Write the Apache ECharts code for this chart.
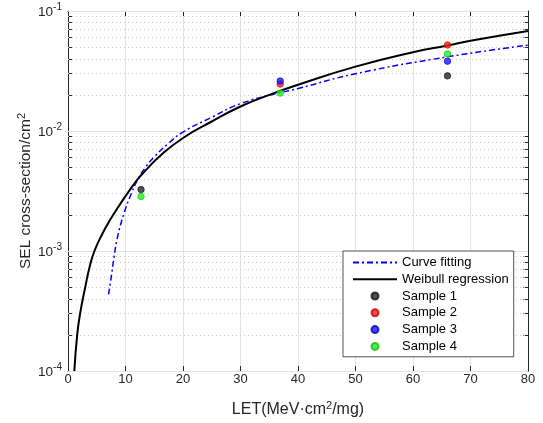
<!DOCTYPE html>
<html>
<head>
<meta charset="utf-8">
<script src="https://cdn.jsdelivr.net/npm/echarts/dist/echarts.min.js"></script>
<style>
html,body{margin:0;padding:0;background:#fff;}
#chart{width:543px;height:423px;}
</style>
</head>
<body>
<div id="chart"></div>
<script>
// ---------- data ----------
const xTicks = [0, 10, 20, 30, 40, 50, 60, 70, 80];
const yMajor = [1e-4, 1e-3, 1e-2, 1e-1];
const yMinor = [2e-4,3e-4,4e-4,5e-4,6e-4,7e-4,8e-4,9e-4,
                2e-3,3e-3,4e-3,5e-3,6e-3,7e-3,8e-3,9e-3,
                2e-2,3e-2,4e-2,5e-2,6e-2,7e-2,8e-2,9e-2];

const weibullLET = [1.1, 1.6, 2.1, 3.0, 3.8, 4.6, 6.0, 7.3, 8.8, 10.3, 11.9, 13.5, 16, 20, 25, 30, 35, 40, 50, 60, 66, 70, 80];
const weibullSEL = [1.0e-4, 2.0e-4, 3.0e-4, 5.0e-4, 7.5e-4, 1.0e-3, 1.4e-3, 1.81e-3, 2.35e-3, 3.0e-3, 3.85e-3, 4.7e-3, 6.2e-3, 8.75e-3, 1.2e-2, 1.6e-2, 2.0e-2, 2.43e-2, 3.44e-2, 4.54e-2, 5.15e-2, 5.65e-2, 6.82e-2];

const fitLET = [7.05, 7.5, 8.0, 8.6, 9.8, 11.0, 12.2, 13.5, 15, 17.5, 20, 25, 30, 36.6, 40, 50, 66, 80];
const fitSEL = [4.35e-4, 6.0e-4, 8.8e-4, 1.3e-3, 2.1e-3, 3.0e-3, 4.0e-3, 5.0e-3, 6.1e-3, 7.9e-3, 9.8e-3, 1.3e-2, 1.69e-2, 2.07e-2, 2.26e-2, 3.0e-2, 4.15e-2, 5.19e-2];

const sampleLET = [12.7, 36.9, 66];
const sample1 = [3.25e-3, null, 2.88e-2];
const sample2 = [null, 2.46e-2, 5.21e-2];
const sample3 = [null, 2.61e-2, 3.82e-2];
const sample4 = [2.85e-3, 2.07e-2, 4.39e-2];

const seriesNames = ['Curve fitting', 'Weibull regression', 'Sample 1', 'Sample 2', 'Sample 3', 'Sample 4'];

// ---------- chart ----------
const FONT = 'Liberation Sans, Arial, Helvetica, sans-serif';
const AX = '#262626';
const pair = (xs, ys) => xs.map((x, i) => [x, ys[i]]).filter(p => p[1] != null);
const supRich = (size, supSize, raise) => ({
  b: {fontSize: size, fontFamily: FONT, color: AX, verticalAlign: 'bottom'},
  s: {fontSize: supSize, fontFamily: FONT, color: AX, verticalAlign: 'bottom', padding: [0, 0, raise, 0]}
});

const chart = echarts.init(document.getElementById('chart'), null, {renderer: 'canvas'});

const scatterSeries = (name, ys, color, edge) => ({
  name, type: 'scatter', data: pair(sampleLET, ys), symbol: 'circle', symbolSize: 6.5, z: 4,
  itemStyle: {color, borderColor: edge, borderWidth: 0.8}
});

const hiddenIcon = {color: 'rgba(0,0,0,0)', borderColor: 'rgba(0,0,0,0)', borderWidth: 0, opacity: 0};

const option = {
  animation: false,
  backgroundColor: '#fff',
  grid: {left: 68, right: 15, top: 11, bottom: 52, containLabel: false},
  xAxis: [{
    type: 'value', min: 0, max: 80, interval: 10, position: 'bottom',
    name: '{b|LET(MeV·cm}{s|2}{b|/mg)}', nameLocation: 'middle', nameGap: 29,
    nameMoveOverlap: false,
    nameTextStyle: {rich: supRich(16, 11, 7)},
    axisLine: {show: true, onZero: false, lineStyle: {color: AX, width: 1}},
    axisTick: {show: true, inside: true, length: 5, lineStyle: {color: AX}},
    axisLabel: {fontSize: 13, fontFamily: FONT, color: AX, margin: 2},
    splitLine: {show: true, lineStyle: {color: '#e3e3e3', width: 1}}
  }, {
    type: 'value', min: 0, max: 80, interval: 10, position: 'top',
    axisLine: {show: true, onZero: false, lineStyle: {color: AX, width: 1}},
    axisTick: {show: true, inside: true, length: 5, lineStyle: {color: AX}},
    axisLabel: {show: false}, splitLine: {show: false}
  }],
  yAxis: [{
    type: 'log', logBase: 10, min: 1e-4, max: 1e-1, position: 'left',
    name: '{b|SEL cross-section/cm}{s|2}', nameLocation: 'middle', nameGap: 34,
    nameMoveOverlap: false,
    nameTextStyle: {rich: supRich(15.5, 11, 7)},
    axisLine: {show: true, onZero: false, lineStyle: {color: AX, width: 1}},
    axisTick: {show: true, inside: true, length: 4.5, customValues: yMajor.concat(yMinor), lineStyle: {color: AX}},
    axisLabel: {
      customValues: yMajor, margin: 6,
      formatter: v => '{b|10}{s|' + Math.round(Math.log10(v)) + '}',
      rich: supRich(13.5, 10, 7)
    },
    splitLine: {show: false}
  }, {
    type: 'log', logBase: 10, min: 1e-4, max: 1e-1, position: 'right',
    axisLine: {show: true, onZero: false, lineStyle: {color: AX, width: 1}},
    axisTick: {show: true, inside: true, length: 4.5, customValues: yMajor.concat(yMinor), lineStyle: {color: AX}},
    axisLabel: {show: false}, splitLine: {show: false}
  }],
  legend: {
    orient: 'vertical', left: 343, top: 251,
    data: [
      {name: seriesNames[0], itemStyle: hiddenIcon},
      {name: seriesNames[1], itemStyle: hiddenIcon},
      seriesNames[2], seriesNames[3], seriesNames[4], seriesNames[5]
    ],
    itemWidth: 44, itemHeight: 7, itemGap: 0,
    padding: [3, 5, 2, 9],
    backgroundColor: '#fff', borderColor: AX, borderWidth: 0.8, borderRadius: 0,
    textStyle: {fontSize: 13, fontFamily: FONT, color: '#000', lineHeight: 16.8},
    selectedMode: false, z: 10
  },
  series: [
    {
      name: '', type: 'line', data: [], z: 1, silent: true,
      markLine: {
        silent: true, symbol: ['none', 'none'], z: 1, precision: 10, label: {show: false},
        data: yMinor.map(v => ({yAxis: v, lineStyle: {color: '#c9c9c9', type: [1, 3], width: 1}}))
          .concat(yMajor.map(v => ({yAxis: v, lineStyle: {color: '#e3e3e3', type: 'solid', width: 1}})))
      }
    },
    {
      name: 'Curve fitting', type: 'line', data: pair(fitLET, fitSEL), smooth: 0.5,
      symbol: 'none', showSymbol: false, z: 3,
      lineStyle: {color: '#0000ff', width: 1.5, type: [6, 3, 2, 3]},
      itemStyle: {color: '#0000ff'}
    },
    {
      name: 'Weibull regression', type: 'line', data: pair(weibullLET, weibullSEL), smooth: 0.5,
      symbol: 'none', showSymbol: false, z: 3,
      lineStyle: {color: '#000000', width: 2},
      itemStyle: {color: '#000000'}
    },
    scatterSeries('Sample 1', sample1, '#262626', '#111111'),
    scatterSeries('Sample 2', sample2, '#ff1a1a', '#cc0000'),
    scatterSeries('Sample 3', sample3, '#1a1aff', '#0000cc'),
    scatterSeries('Sample 4', sample4, '#22ee22', '#11bb11')
  ]
};
chart.setOption(option);
</script>
</body>
</html>
